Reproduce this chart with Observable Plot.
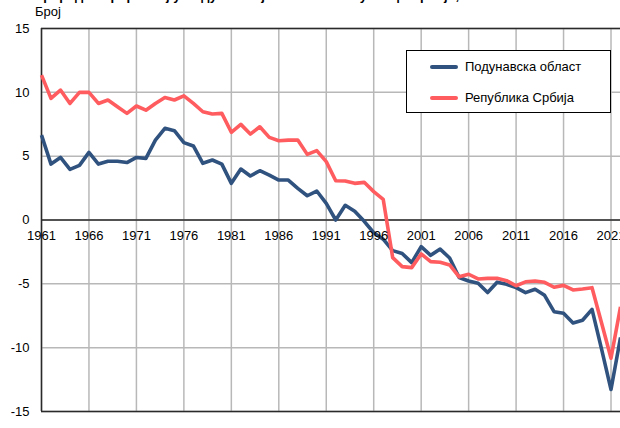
<!DOCTYPE html>
<html>
<head>
<meta charset="utf-8">
<script src="https://cdn.jsdelivr.net/npm/d3@7"></script>
<script src="https://cdn.jsdelivr.net/npm/@observablehq/plot@0.6"></script>
<style>
  html, body { margin: 0; padding: 0; background: #fff; overflow: hidden; }
  #wrap { position: relative; width: 620px; height: 428px; overflow: hidden; font-family: Arial, "Liberation Sans", sans-serif; color: #000; }
  #title { margin-top: -12px; height: 16px; line-height: 16px; font-size: 13px; font-weight: bold; padding-left: 34px; white-space: nowrap; }
  #unit { height: 16px; line-height: 16px; font-size: 13px; padding-left: 35px; }
  #legend { position: absolute; left: 406px; top: 50px; width: 203px; height: 61px; border: 1px solid #000; background: #fff; font-size: 13px; }
  .item { position: absolute; left: 23px; display: flex; align-items: center; white-space: nowrap; }
  .swatch { width: 28px; height: 4px; border-radius: 2px; margin-right: 7px; }
</style>
</head>
<body>
<div id="wrap">
  <div id="title"></div>
  <div id="unit"></div>
  <div id="chart"></div>
  <div id="legend"></div>
</div>
<script>
const titleText = "Природни прираштај у Подунавској области и Републици Србији, 1961–2022";
const unitText = "Број";
const seriesNames = ["Подунавска област", "Република Србија"];
const seriesColors = ["#30527e", "#ff5c5f"];

const years = [1961,1962,1963,1964,1965,1966,1967,1968,1969,1970,
  1971,1972,1973,1974,1975,1976,1977,1978,1979,1980,
  1981,1982,1983,1984,1985,1986,1987,1988,1989,1990,
  1991,1992,1993,1994,1995,1996,1997,1998,1999,2000,
  2001,2002,2003,2004,2005,2006,2007,2008,2009,2010,
  2011,2012,2013,2014,2015,2016,2017,2018,2019,2020,
  2021,2022];

const podunavska = [6.65,4.38,4.9,3.97,4.28,5.3,4.38,4.6,4.6,4.5,
  4.9,4.83,6.26,7.18,7.0,6.06,5.8,4.44,4.7,4.38,
  2.87,3.99,3.45,3.86,3.52,3.13,3.13,2.48,1.9,2.27,
  1.3,0.0,1.15,0.68,-0.1,-1.0,-1.5,-2.4,-2.62,-3.34,
  -2.09,-2.77,-2.28,-2.98,-4.5,-4.78,-4.96,-5.68,-4.87,-5.04,
  -5.3,-5.69,-5.42,-5.9,-7.18,-7.31,-8.06,-7.85,-7.0,-10.1,
  -13.28,-9.2];

const srbija = [11.35,9.53,10.18,9.13,10.0,10.0,9.13,9.4,8.87,8.35,
  8.93,8.6,9.13,9.6,9.4,9.73,9.13,8.48,8.3,8.35,
  6.87,7.49,6.73,7.3,6.47,6.21,6.26,6.26,5.14,5.43,
  4.57,3.08,3.05,2.87,2.95,2.22,1.62,-2.95,-3.65,-3.73,
  -2.66,-3.26,-3.31,-3.52,-4.45,-4.25,-4.62,-4.57,-4.57,-4.75,
  -5.15,-4.84,-4.78,-4.88,-5.27,-5.12,-5.48,-5.4,-5.3,-8.05,
  -10.83,-6.8];

const xTicks = [1961,1966,1971,1976,1981,1986,1991,1996,2001,2006,2011,2016,2021];
const yTicks = [-15,-10,-5,0,5,10,15];

document.getElementById("title").textContent = titleText;
document.getElementById("unit").textContent = unitText;

const data = [];
years.forEach((yr, i) => {
  data.push({year: yr, value: podunavska[i], series: seriesNames[0]});
  data.push({year: yr, value: srbija[i], series: seriesNames[1]});
});

const gridColor = "#b8b8b8";
const axisColor = "#2a2a2a";

const chart = Plot.plot({
  width: 620,
  height: 408,
  marginTop: 8,
  marginBottom: 17,
  marginLeft: 41,
  marginRight: 0,
  style: {fontFamily: "Arial, 'Liberation Sans', sans-serif", fontSize: "13px", color: "#000", background: "#fff", overflow: "visible"},
  x: {domain: [1961, 2022], axis: null},
  y: {domain: [-15, 15], ticks: yTicks, tickSize: 0, tickPadding: 12, tickFormat: d => String(d), label: null},
  color: {domain: seriesNames, range: seriesColors},
  marks: [
    Plot.ruleX(xTicks, {x: d => d, stroke: gridColor, strokeWidth: 1.5}),
    Plot.ruleY(yTicks, {y: d => d, stroke: gridColor, strokeWidth: 1.5}),
    Plot.ruleY([yTicks[0], 0, yTicks[yTicks.length - 1]], {y: d => d, stroke: axisColor, strokeWidth: 1.5}),
    Plot.ruleX([xTicks[0]], {x: d => d, stroke: axisColor, strokeWidth: 1.5}),
    Plot.line(data, {x: "year", y: "value", z: "series", stroke: "series", strokeWidth: 3.6, strokeLinejoin: "round", strokeLinecap: "butt"}),
    Plot.text(xTicks, {x: d => d, y: 0, dy: 16, text: d => String(d), fill: "#000"})
  ]
});
document.getElementById("chart").appendChild(chart);

const legend = document.getElementById("legend");
seriesNames.forEach((name, i) => {
  const item = document.createElement("div");
  item.className = "item";
  item.style.top = (i === 0 ? 8 : 39) + "px";
  const sw = document.createElement("div");
  sw.className = "swatch";
  sw.style.background = seriesColors[i];
  const lab = document.createElement("span");
  lab.textContent = name;
  item.appendChild(sw);
  item.appendChild(lab);
  legend.appendChild(item);
});
</script>
</body>
</html>
